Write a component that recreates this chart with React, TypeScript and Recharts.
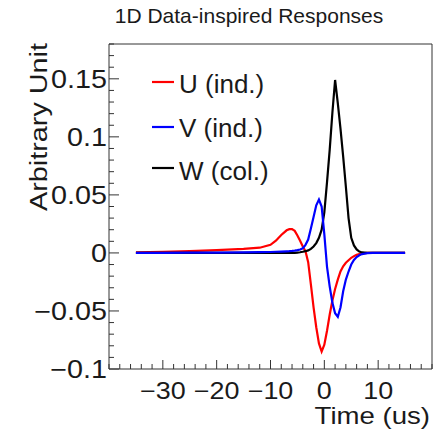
import { LineChart, Line, XAxis, YAxis, ReferenceArea } from "recharts"

const times = [
  -35, -30, -25, -20, -15, -12, -10, -9, -8, -7,
  -6.5, -6, -5.5, -5, -4.5, -4, -3.5, -3, -2.5, -2,
  -1.5, -1, -0.5, 0, 0.5, 1, 1.5, 2, 2.5, 3,
  3.5, 4, 4.5, 5, 5.5, 6, 6.5, 7, 8, 9,
  10, 12, 15,
]
const uInd = [
  0.0005, 0.001, 0.0015, 0.0025, 0.0035, 0.0045, 0.007, 0.0105, 0.0155, 0.0195,
  0.0205, 0.0205, 0.019, 0.015, 0.0105, 0.0055, 0.0015, -0.008, -0.027, -0.047,
  -0.064, -0.078, -0.085, -0.079, -0.067, -0.053, -0.041, -0.031, -0.023, -0.016,
  -0.0115, -0.0085, -0.0063, -0.0042, -0.0028, -0.0016, -0.0009, -0.0004, 0, 0,
  0, 0, 0,
]
const vInd = [
  0, 0, 0.0002, 0.0003, 0.0005, 0.0007, 0.0008, 0.001, 0.0012, 0.0014,
  0.0015, 0.0017, 0.002, 0.0024, 0.003, 0.004, 0.007, 0.0115, 0.021, 0.031,
  0.041, 0.046, 0.04, 0.016, -0.012, -0.029, -0.043, -0.052, -0.055, -0.047,
  -0.033, -0.023, -0.016, -0.01, -0.006, -0.0035, -0.002, -0.001, -0.0002, 0,
  0, 0, 0,
]
const wCol = [
  0, 0, 0, 0, 0, 0, 0, 0, 0, 0,
  0, 0, 0, 0.0003, 0.0006, 0.001, 0.0015, 0.0022, 0.0035, 0.0055,
  0.0085, 0.013, 0.02, 0.035, 0.061, 0.089, 0.121, 0.149, 0.129, 0.107,
  0.083, 0.057, 0.03, 0.013, 0.0065, 0.003, 0.0012, 0.0004, 0, 0,
  0, 0, 0,
]

const seriesKeys = ["u", "v", "w"]
const seriesNames = ["U (ind.)", "V (ind.)", "W (col.)"]
const seriesColors = ["#ff0000", "#0000ff", "#000000"]
// drawing order: red, black, then blue on top
const drawOrder = [0, 2, 1]

const xMajor = [-30, -20, -10, 0, 10]
const xMajorLabels = ["\u221230", "\u221220", "\u221210", "0", "10"]
const yMajor = [-0.1, -0.05, 0, 0.05, 0.1, 0.15]
const yMajorLabels = ["\u22120.1", "\u22120.05", "0", "0.05", "0.1", "0.15"]

const xDomain = [-40, 20]
const yDomain = [-0.1, 0.18]
const xTicks = Array.from({ length: 31 }, (_, i) => -40 + 2 * i)
const yTicks = Array.from({ length: 29 }, (_, i) => (i - 10) / 100)

const data = times.map((t, i) => ({ t, u: uInd[i], v: vInd[i], w: wCol[i] }))

const font = "'Liberation Sans', Arial, Helvetica, sans-serif"
const ink = "#1a1a1a"

const XTick = ({ x, y, payload }: any) => {
  const i = xMajor.findIndex((m) => Math.abs(m - payload.value) < 1e-6)
  return (
    <g>
      <line x1={x} x2={x} y1={y} y2={y - (i >= 0 ? 9 : 5)} stroke="#333" strokeWidth={1} />
      {i >= 0 && (
        <text
          transform={`translate(${x},${y + 30}) scale(1.17,1)`}
          textAnchor="middle"
          fontSize={23}
          fontFamily={font}
          fill={ink}
        >
          {xMajorLabels[i]}
        </text>
      )}
    </g>
  )
}

const YTick = ({ x, y, payload }: any) => {
  const i = yMajor.findIndex((m) => Math.abs(m - payload.value) < 1e-6)
  return (
    <g>
      <line x1={x} x2={x + (i >= 0 ? 10 : 5)} y1={y} y2={y} stroke="#333" strokeWidth={1} />
      {i >= 0 && (
        <text
          transform={`translate(${x - 2},${y + 9}) scale(1.15,1)`}
          textAnchor="end"
          fontSize={25}
          fontFamily={font}
          fill={ink}
        >
          {yMajorLabels[i]}
        </text>
      )}
    </g>
  )
}

const legendRows = [
  { line: 82, base: 93 },
  { line: 127, base: 137 },
  { line: 168, base: 180 },
]

export default function App() {
  return (
    <div style={{ position: "absolute", left: 0, top: 0, width: 442, height: 440, background: "#fff" }}>
      <LineChart
        width={442}
        height={440}
        data={data}
        margin={{ top: 44, right: 10, bottom: 31, left: 49 }}
      >
        <XAxis
          dataKey="t"
          type="number"
          domain={xDomain}
          ticks={xTicks}
          interval={0}
          allowDataOverflow
          axisLine={false}
          tickLine={false}
          tickSize={0}
          tickMargin={0}
          height={40}
          tick={<XTick />}
        />
        <YAxis
          type="number"
          domain={yDomain}
          ticks={yTicks}
          interval={0}
          allowDataOverflow
          axisLine={false}
          tickLine={false}
          tickSize={0}
          tickMargin={0}
          width={60}
          tick={<YTick />}
        />
        <ReferenceArea
          x1={xDomain[0]}
          x2={xDomain[1]}
          y1={yDomain[0]}
          y2={yDomain[1]}
          fill="none"
          fillOpacity={0}
          stroke="#333"
          strokeWidth={1}
        />
        {drawOrder.map((k) => (
          <Line
            key={seriesKeys[k]}
            dataKey={seriesKeys[k]}
            type="linear"
            stroke={seriesColors[k]}
            strokeWidth={2.2}
            dot={false}
            isAnimationActive={false}
          />
        ))}
      </LineChart>
      <svg
        width={442}
        height={440}
        style={{ position: "absolute", left: 0, top: 0, pointerEvents: "none" }}
      >
        <text x={249} y={23} textAnchor="middle" fontSize={21} fontFamily={font} fill={ink}>
          1D Data-inspired Responses
        </text>
        <text
          transform="translate(430,424) scale(1.2,1)"
          textAnchor="end"
          fontSize={23}
          fontFamily={font}
          fill={ink}
        >
          Time (us)
        </text>
        <text
          transform="translate(47,43) rotate(-90) scale(1.2,1)"
          textAnchor="end"
          fontSize={24}
          fontFamily={font}
          fill={ink}
        >
          Arbitrary Unit
        </text>
        {seriesNames.map((name, i) => (
          <g key={name}>
            <line
              x1={152}
              x2={174}
              y1={legendRows[i].line}
              y2={legendRows[i].line}
              stroke={seriesColors[i]}
              strokeWidth={2.2}
            />
            <text x={179} y={legendRows[i].base} fontSize={26} fontFamily={font} fill={ink}>
              {name}
            </text>
          </g>
        ))}
      </svg>
    </div>
  )
}
